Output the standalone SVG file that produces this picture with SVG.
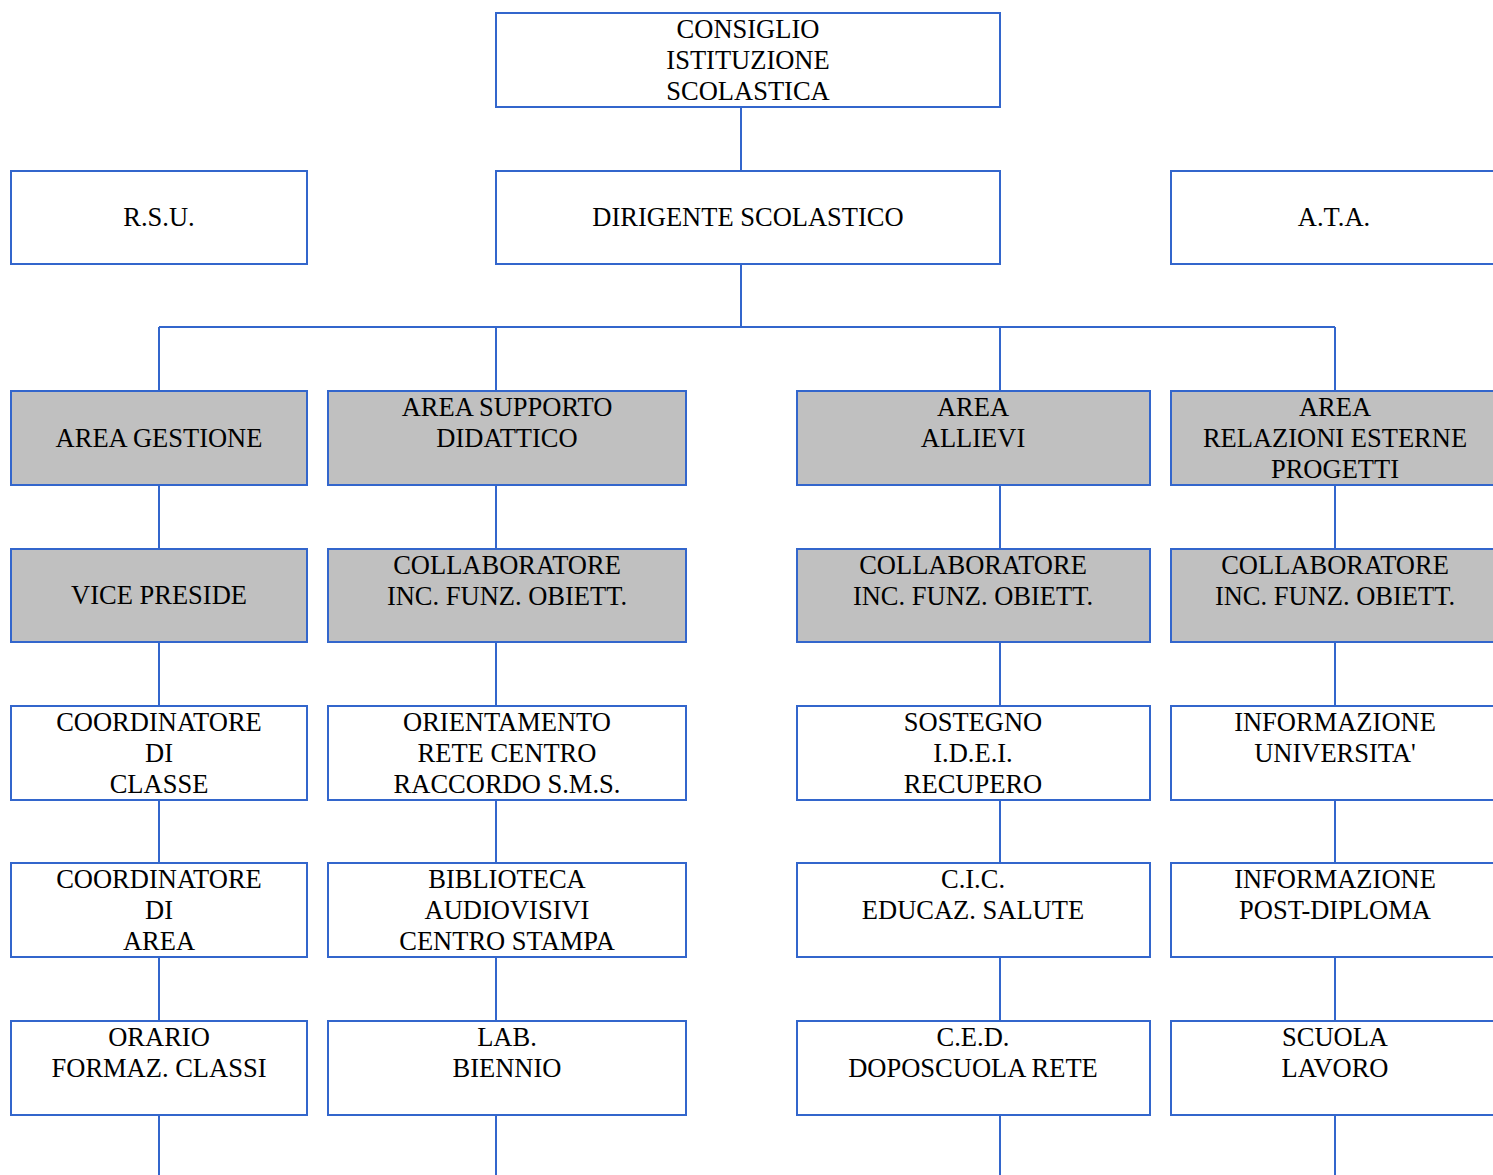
<svg xmlns="http://www.w3.org/2000/svg" width="1493" height="1175" viewBox="0 0 1493 1175" font-family="'Liberation Serif', 'Times New Roman', Times, 'DejaVu Serif', serif">
<style>
.b{fill:#fff;stroke:#3366CC;stroke-width:2}
.g{fill:#C0C0C0;stroke:#3366CC;stroke-width:2}
.c{fill:none;stroke:#3366CC;stroke-width:2}
.t text{font-size:26.5px;fill:#000;text-anchor:middle}
</style>
<rect width="1493" height="1175" fill="#fff"/>
<g id="connectors">
<path class="c" d="M741 107V171M741 264V327M159 327H1335M159 327V391M496 327V391M1000 327V391M1335 327V391"/>
<path class="c" d="M159 485V549M159 642V706M159 800V863M159 957V1021M159 1115V1175"/>
<path class="c" d="M496 485V549M496 642V706M496 800V863M496 957V1021M496 1115V1175"/>
<path class="c" d="M1000 485V549M1000 642V706M1000 800V863M1000 957V1021M1000 1115V1175"/>
<path class="c" d="M1335 485V549M1335 642V706M1335 800V863M1335 957V1021M1335 1115V1175"/>
</g>
<g class="t">
<g id="consiglio"><rect class="b" x="496" y="13" width="504" height="94"/><text x="748" y="38">CONSIGLIO</text><text x="748" y="69">ISTITUZIONE</text><text x="748" y="100">SCOLASTICA</text></g>
<g id="rsu"><rect class="b" x="11" y="171" width="296" height="93"/><text x="159" y="226">R.S.U.</text></g>
<g id="dirigente"><rect class="b" x="496" y="171" width="504" height="93"/><text x="748" y="226">DIRIGENTE SCOLASTICO</text></g>
<g id="ata"><rect class="b" x="1171" y="171" width="340" height="93"/><text x="1334" y="226">A.T.A.</text></g>

<g id="area-gestione"><rect class="g" x="11" y="391" width="296" height="94"/><text x="159" y="447">AREA GESTIONE</text></g>
<g id="area-supporto"><rect class="g" x="328" y="391" width="358" height="94"/><text x="507" y="416">AREA SUPPORTO</text><text x="507" y="447">DIDATTICO</text></g>
<g id="area-allievi"><rect class="g" x="797" y="391" width="353" height="94"/><text x="973" y="416">AREA</text><text x="973" y="447">ALLIEVI</text></g>
<g id="area-relazioni"><rect class="g" x="1171" y="391" width="340" height="94"/><text x="1335" y="416">AREA</text><text x="1335" y="447">RELAZIONI ESTERNE</text><text x="1335" y="478">PROGETTI</text></g>

<g id="vice-preside"><rect class="g" x="11" y="549" width="296" height="93"/><text x="159" y="604">VICE PRESIDE</text></g>
<g id="collab-2"><rect class="g" x="328" y="549" width="358" height="93"/><text x="507" y="574">COLLABORATORE</text><text x="507" y="605">INC. FUNZ. OBIETT.</text></g>
<g id="collab-3"><rect class="g" x="797" y="549" width="353" height="93"/><text x="973" y="574">COLLABORATORE</text><text x="973" y="605">INC. FUNZ. OBIETT.</text></g>
<g id="collab-4"><rect class="g" x="1171" y="549" width="340" height="93"/><text x="1335" y="574">COLLABORATORE</text><text x="1335" y="605">INC. FUNZ. OBIETT.</text></g>

<g id="coord-classe"><rect class="b" x="11" y="706" width="296" height="94"/><text x="159" y="731">COORDINATORE</text><text x="159" y="762">DI</text><text x="159" y="793">CLASSE</text></g>
<g id="orientamento"><rect class="b" x="328" y="706" width="358" height="94"/><text x="507" y="731">ORIENTAMENTO</text><text x="507" y="762">RETE CENTRO</text><text x="507" y="793">RACCORDO S.M.S.</text></g>
<g id="sostegno"><rect class="b" x="797" y="706" width="353" height="94"/><text x="973" y="731">SOSTEGNO</text><text x="973" y="762">I.D.E.I.</text><text x="973" y="793">RECUPERO</text></g>
<g id="info-univ"><rect class="b" x="1171" y="706" width="340" height="94"/><text x="1335" y="731">INFORMAZIONE</text><text x="1335" y="762">UNIVERSITA'</text></g>

<g id="coord-area"><rect class="b" x="11" y="863" width="296" height="94"/><text x="159" y="888">COORDINATORE</text><text x="159" y="919">DI</text><text x="159" y="950">AREA</text></g>
<g id="biblioteca"><rect class="b" x="328" y="863" width="358" height="94"/><text x="507" y="888">BIBLIOTECA</text><text x="507" y="919">AUDIOVISIVI</text><text x="507" y="950">CENTRO STAMPA</text></g>
<g id="cic"><rect class="b" x="797" y="863" width="353" height="94"/><text x="973" y="888">C.I.C.</text><text x="973" y="919">EDUCAZ. SALUTE</text></g>
<g id="info-post"><rect class="b" x="1171" y="863" width="340" height="94"/><text x="1335" y="888">INFORMAZIONE</text><text x="1335" y="919">POST-DIPLOMA</text></g>

<g id="orario"><rect class="b" x="11" y="1021" width="296" height="94"/><text x="159" y="1046">ORARIO</text><text x="159" y="1077">FORMAZ. CLASSI</text></g>
<g id="lab"><rect class="b" x="328" y="1021" width="358" height="94"/><text x="507" y="1046">LAB.</text><text x="507" y="1077">BIENNIO</text></g>
<g id="ced"><rect class="b" x="797" y="1021" width="353" height="94"/><text x="973" y="1046">C.E.D.</text><text x="973" y="1077">DOPOSCUOLA RETE</text></g>
<g id="scuola-lavoro"><rect class="b" x="1171" y="1021" width="340" height="94"/><text x="1335" y="1046">SCUOLA</text><text x="1335" y="1077">LAVORO</text></g>
</g>
</svg>
